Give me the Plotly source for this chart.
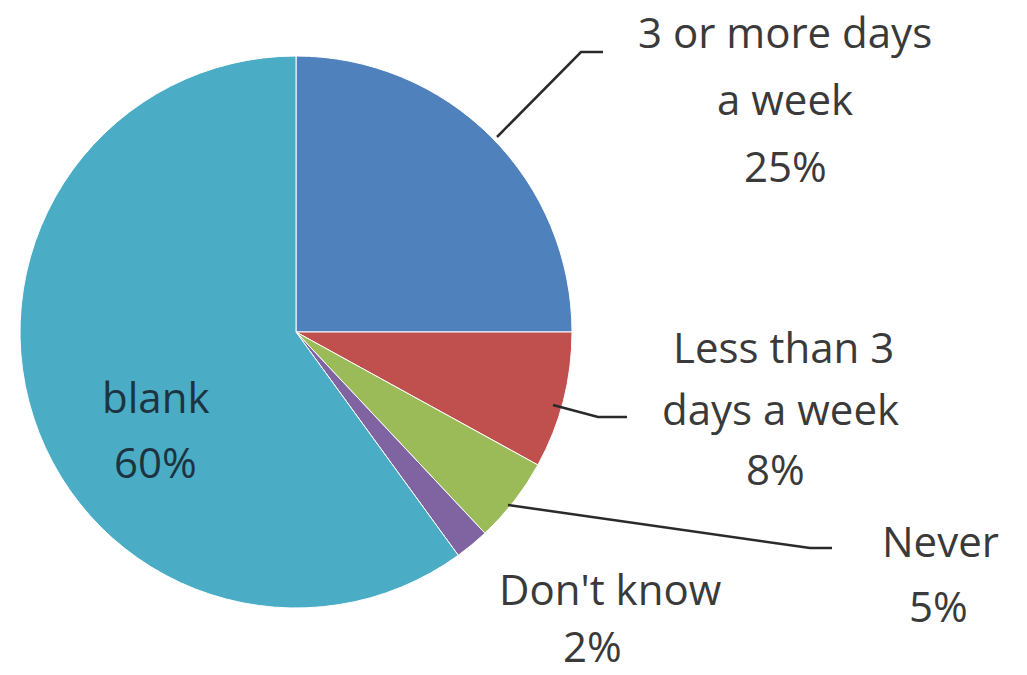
import plotly.graph_objects as go

W, H = 1027, 675

categories = ["3 or more days a week", "Less than 3 days a week", "Never", "Don't know", "blank"]
values = [25, 8, 5, 2, 60]
colors = ["#4F81BD", "#C0504D", "#9BBB59", "#8064A2", "#4BACC6"]

# label lines (display text split into lines) for each category
label_lines = [
    ["3 or more days", "a week"],
    ["Less than 3", "days a week"],
    ["Never"],
    ["Don't know"],
    ["blank"],
]

# pie geometry in screen pixels
cx, cy, r = 296, 332, 276


def px(x):
    return x / W


def py(y):
    return 1 - y / H


fig = go.Figure(
    go.Pie(
        labels=categories,
        values=values,
        sort=False,
        direction="clockwise",
        rotation=0,
        marker=dict(colors=colors, line=dict(color="white", width=1)),
        textinfo="none",
        hoverinfo="label+percent",
        domain=dict(x=[px(cx - r), px(cx + r)], y=[py(cy + r), py(cy - r)]),
        showlegend=False,
    )
)

# label anchor positions (screen pixel centres of each text line) - layout only
label_pos = [
    [(785, 31), (785, 98), (785, 165)],
    [(783, 346), (780, 408), (775, 468)],
    [(940, 540), (938, 605)],
    [(610, 588), (592, 645)],
    [(155, 396), (155, 461)],
]

FONT = "Open Sans"
FSIZE = 42
annotations = []
for i, cat in enumerate(categories):
    lines = label_lines[i] + [f"{values[i]}%"]
    for (x, y), t in zip(label_pos[i], lines):
        annotations.append(
            dict(
                x=px(x), y=py(y), xref="paper", yref="paper",
                text=t, showarrow=False, xanchor="center", yanchor="middle",
                font=dict(family=FONT, size=FSIZE, color="#1d3440" if i == 4 else "#3a3a3a"),
            )
        )

# leader lines (screen pixel polylines)
leaders = [
    [(497, 137), (581, 52), (603, 52)],
    [(553, 405), (598, 417), (627, 417)],
    [(508, 505), (810, 548), (832, 548)],
]
shapes = []
for pts in leaders:
    path = "M " + " L ".join(f"{px(x)},{py(y)}" for x, y in pts)
    shapes.append(dict(type="path", xref="paper", yref="paper", path=path,
                       line=dict(color="#2a2a2a", width=2.5)))

fig.update_layout(
    width=W, height=H,
    margin=dict(l=0, r=0, t=0, b=0),
    paper_bgcolor="white",
    plot_bgcolor="white",
    annotations=annotations,
    shapes=shapes,
)

fig.write_html(
    "out.html",
    config={"displayModeBar": False},
    post_script="document.body.style.margin='0';document.body.style.overflow='hidden';",
)
